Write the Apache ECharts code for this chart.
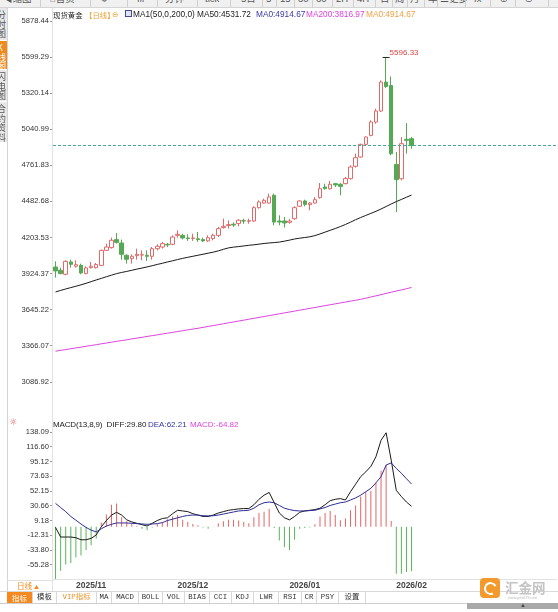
<!DOCTYPE html>
<html lang="zh-CN">
<head>
<meta charset="utf-8">
<title>现货黄金 日线</title>
<script src="https://cdn.jsdelivr.net/npm/echarts@6.0.0/dist/echarts.min.js"></script>
<style>
html,body{margin:0;padding:0;background:#fff;}
body{width:558px;height:612px;position:relative;overflow:hidden;font-family:"Liberation Sans","Noto Sans CJK SC",sans-serif;color:#222;}
#chart{position:absolute;left:0;top:0;width:558px;height:612px;}
.a{position:absolute;white-space:nowrap;}
.vl{position:absolute;width:1px;background:#dcdcdc;}
.hl{position:absolute;height:1px;background:#dcdcdc;}
#topbar{position:absolute;left:0;top:0;width:558px;height:7px;background:#f0f0f0;border-bottom:1px solid #d4d4d4;overflow:hidden;}
#topbar span{position:absolute;top:-7px;font-size:9.5px;line-height:12px;color:#555;font-family:"Liberation Sans","Noto Sans CJK SC";}
#topbar i{position:absolute;top:0;width:1px;height:7px;background:#cfcfcf;}
.lg{top:10px;font-size:8.3px;line-height:9px;}
.mg{top:419.5px;font-size:8px;line-height:9px;}
.cjk{font-family:"Noto Sans CJK SC",sans-serif;}
.blk{position:absolute;left:0;width:7px;overflow:hidden;background:#e8e8e8;}
.blk span{position:absolute;left:-3px;top:2px;font-size:9px;line-height:9.5px;font-family:"Noto Sans CJK SC";color:#555;}
.tab{position:absolute;top:592px;height:11px;border-right:1px solid #d8d8d8;font-size:7.4px;line-height:11px;text-align:center;font-family:"Liberation Mono","Noto Sans CJK SC";color:#333;}
</style>
</head>
<body>
<div id="chart"></div>

<div id="topbar"></div>

<div class="blk" style="top:8px;height:32px"><span>分<br>时<br>图</span></div>
<div class="blk" style="top:41px;height:28px;background:#f08a1c"><span style="color:#fff">K<br>线<br>图</span></div>
<div class="blk" style="top:70px;height:31px"><span>闪<br>电<br>图</span></div>
<div class="blk" style="top:102px;height:40px"><span>合<br>约<br>资<br>料</span></div>
<div class="vl" style="left:7px;top:8px;height:584px;background:#d4d4d4"></div>
<div class="vl" style="left:52px;top:8px;height:584px;background:#e2e2e2"></div>

<div class="a lg cjk" style="left:53px;font-size:7.4px">现货黄金</div>
<div class="a lg cjk" style="left:85px;font-size:7.4px;color:#f0a030">【日线】</div>
<div class="a lg" style="left:112px;color:#f0a030;font-family:'DejaVu Sans';font-size:7.5px">⊖</div>
<div class="a" style="left:125px;top:10px;width:5px;height:5px;border:1px solid #4a4a8a;background:#dfe3f5"></div>
<div class="a lg" style="left:133px">MA1(50,0,200,0)</div>
<div class="a lg" style="left:197px">MA50:4531.72</div>
<div class="a lg" style="left:256px;color:#3a3aa5">MA0:4914.67</div>
<div class="a lg" style="left:306px;color:#e040e0">MA200:3816.97</div>
<div class="a lg" style="left:366px;color:#f0a040">MA0:4914.67</div>

<div class="a" style="left:9px;top:417px;font-size:9px;color:#e05050;font-family:'DejaVu Sans'">☼</div>
<div class="a mg" style="left:53px;letter-spacing:-0.15px">MACD(13,8,9)</div>
<div class="a mg" style="left:106.5px">DIFF:29.80</div>
<div class="a mg" style="left:148px;color:#3535a0">DEA:62.21</div>
<div class="a mg" style="left:190px;color:#e040e0">MACD:-64.82</div>

<div class="hl" style="left:7px;top:580px;width:46px;background:#e2e2e2"></div>
<div class="a cjk" style="left:17px;top:581px;font-size:7.6px;line-height:10px;color:#f08a1c">日线 <span style="font-size:5px">▲</span></div>
<div class="hl" style="left:0;top:591px;width:558px;background:#d8d8d8"></div>
<div id="tabs"></div>
<div class="hl" style="left:0;top:603px;width:467px;background:#cfcfcf"></div>

<div class="a" style="left:480px;top:578px;width:20px;height:20px;border-radius:4px;background:#f4992c"></div>
<div class="a" style="left:484px;top:582px;width:9px;height:9px;border:2.5px solid #fff;border-right-color:transparent;border-radius:50%;transform:rotate(20deg)"></div>
<div class="a cjk" style="left:505px;top:579px;font-size:13.5px;line-height:16px;color:#c4c4c4;font-weight:bold">汇金网</div>
<div class="a" style="left:508px;top:596px;font-size:3.6px;color:#bbb">www.gold678.com</div>
<div class="a" style="left:467px;top:603px;width:91px;height:6px;background:#a9a9a9"></div>
<div class="a" style="left:520px;top:602px;font-size:6px;color:#444">▲</div>

<script>
// 日K 数据 (71 根)
const opens = [3975,3950,3919,4014,3981,3988,3924,3970,3970,3988,
  4104,4125,4187,4161,4066,4040,4063,4068,4066,4058,
  4117,4130,4151,4151,4220,4220,4200,4197,4194,4187,
  4177,4195,4220,4280,4296,4306,4311,4333,4329,4331,
  4434,4470,4470,4530,4331,4331,4321,4349,4445,4486,
  4458,4470,4512,4594,4581,4620,4615,4620,4659,4754,
  4826,4924,4993,5097,5182,5406,5380,4769,4658,4963,
  4968];
const closes = [3945,3924,4019,3996,3993,3929,3968,3981,3994,4104,
  4130,4182,4166,4073,4035,4058,4073,4070,4058,4117,
  4135,4156,4146,4207,4228,4200,4195,4200,4187,4177,
  4202,4220,4272,4290,4303,4300,4337,4331,4333,4434,
  4478,4491,4517,4323,4323,4316,4331,4434,4486,4460,
  4470,4496,4581,4581,4615,4610,4599,4659,4749,4821,
  4924,4981,5097,5182,5406,5372,4852,4651,4929,4955,
  4914.67];
const lows = [3893,3919,3911,3970,3970,3919,3919,3963,3963,3983,
  4099,4117,4156,4032,4001,4001,4032,4027,4022,4032,
  4104,4117,4130,4143,4202,4189,4177,4177,4169,4169,
  4169,4182,4207,4272,4272,4285,4290,4310,4310,4323,
  4427,4465,4465,4298,4298,4280,4310,4341,4440,4445,
  4414,4465,4504,4574,4574,4594,4530,4615,4651,4744,
  4821,4916,4986,5084,5174,5360,4839,4400,4645,4852,
  4890];
const highs = [4019,3970,4027,4032,4027,4001,3981,4014,4006,4110,
  4156,4202,4238,4187,4073,4073,4117,4104,4104,4130,
  4151,4169,4161,4220,4259,4233,4228,4233,4246,4202,
  4220,4233,4285,4349,4336,4320,4345,4349,4349,4445,
  4491,4504,4543,4543,4375,4362,4345,4445,4491,4496,
  4478,4517,4625,4620,4641,4625,4625,4672,4762,4852,
  4929,4986,5110,5200,5419,5596.33,5450,4865,4981,5089,
  4981];
const ma50 = [3782,3794,3805,3816,3826,3837,3849,3862,3875,3887,
  3900,3912,3924,3933,3941,3950,3959,3967,3976,3985,
  3995,4004,4014,4023,4033,4042,4050,4058,4066,4074,
  4082,4090,4100,4112,4123,4129,4133,4138,4143,4147,
  4152,4157,4161,4164,4168,4175,4183,4192,4198,4203,
  4209,4218,4231,4245,4259,4273,4288,4304,4322,4341,
  4358,4374,4390,4406,4424,4443,4463,4481,4498,4515,
  4531.72];
const ma200 = [3324,3330,3336,3343,3349,3355,3362,3368,3374,3381,
  3387,3393,3400,3406,3412,3419,3425,3431,3438,3444,
  3450,3457,3463,3469,3476,3482,3489,3495,3501,3508,
  3515,3522,3529,3536,3543,3550,3557,3564,3571,3578,
  3585,3592,3599,3606,3613,3620,3627,3634,3641,3648,
  3655,3662,3669,3676,3683,3690,3697,3704,3711,3718,
  3725,3734,3743,3752,3761,3771,3780,3789,3798,3807,
  3816.97];

// MACD(13,8,9)
const diff = [-1,-15,-15,-15,-16,-19,-19,-17,-12,0,
  9,17,21,17,10,7,5,3,1,5,
  9,12,13,19,24,23,22,19,17,15,
  15,17,20,22,24,25,26,26.5,26.5,32,
  40,46,50,35,20,13,10,15,21,23,
  24,25,27,32,38,40,41,39,51,62,
  73,80,88,102,126,137,97,53,44,36,
  29.8];
const dea = [34,28,22,15,9.5,4,-1,-5,-7.5,-3,
  1,3.5,5.5,5.5,5.5,5,4.5,4,3.5,4,
  4.5,6,9,11,13,15,16.5,17,17,16,
  15.8,16,17,18.5,20,21.5,23,23.5,24,27,
  32,35,36,35,31,27,25,23.5,23,23,
  23.5,24,26,28,31,33,35,36,39,42,
  46,51,56,64,73,90,93,85,78,70,
  62.21];
const macdHist = [-77,-64,-55,-53,-45,-42,-34,-27,-17,6,
  18,32,34,14,8,4,1,-3,-5,-1,
  4,7,11,15,17,10,7,4,2,-1,
  -3,0.5,5,8,10,10,9,7,5,14,
  20,22,26,-2,-20,-30,-34,-19,-3,-2,
  -1,3.6,15,20,23,17,9.5,12,24,31,
  44,51,52,64,82,90,8.5,-68.5,-68.5,-66,
  -64.82];

// 坐标轴刻度
const priceTicks = [5878.44,5599.29,5320.14,5040.99,4761.83,4482.68,4203.53,3924.37,3645.22,3366.07,3086.92];
const macdTicks = [138.09,116.60,95.12,73.63,52.15,30.66,9.18,-12.31,-33.80,-55.28];
const monthIdx = [7,27,49,70];
const monthNames = ['2025/11','2025/12','2026/01','2026/02'];
const lastPrice = 4914.67;
const slotCount = 99;

// toolbar / tabs
const topItems = [['◀缩图',3],['⌂首页',50],['⟳',101],['ılı',137],['分钟',165],['tick',205],['5日',241],['5',266],['15',280],['30',298],['60',316],['2H',336],['4H',357],['日',380],['周',395],['月',410],['年',428],['☰更多',440],['fx',474],['⊕',499],['⊖',524]];
const topSeps = [40,90,127,157,197,230,262,276,294,312,332,353,375,392,407,424,437,465,490,515,548];
const tabs = [['指标',7,33],['模板',33,57],['VIP指标',57,97],['MA',97,112],['MACD',112,139],['BOLL',139,163],['VOL',163,185],['BIAS',185,210],['CCI',210,232],['KDJ',232,254],['LWR',254,279],['RSI',279,302],['CR',302,317],['PSY',317,339],['设置',339,366]];

const tb = document.getElementById('topbar');
topItems.forEach(([t,x]) => { const s=document.createElement('span'); s.textContent=t; s.style.left=x+'px'; tb.appendChild(s); });
topSeps.forEach(x => { const i=document.createElement('i'); i.style.left=x+'px'; tb.appendChild(i); });
const tabBox = document.getElementById('tabs');
tabs.forEach(([t,l,r],k) => {
  const d=document.createElement('div'); d.className='tab'; d.textContent=t;
  d.style.left=l+'px'; d.style.width=(r-l-1)+'px';
  if (k===0){ d.style.background='#f5891f'; d.style.color='#fff'; d.style.fontFamily='Noto Sans CJK SC'; }
  if (k===2){ d.style.color='#e8962a'; }
  tabBox.appendChild(d);
});

const cats = Array.from({length: slotCount}, (_, i) => String(i));
const candles = opens.map((o, i) => [o, closes[i], lows[i], highs[i]]);

const chart = echarts.init(document.getElementById('chart'));
const tickLabel = {fontFamily:'Liberation Sans', fontSize:7.6, color:'#333', margin:4};

const option = {
  animation: false,
  backgroundColor: '#fff',
  grid: [
    {left:53, top:21, width:503.5, height:394},
    {left:53, top:425, width:503.5, height:154}
  ],
  xAxis: [
    {type:'category', gridIndex:0, data:cats, boundaryGap:true,
     axisLine:{show:false}, axisTick:{show:false}, axisLabel:{show:false}, splitLine:{show:false}},
    {type:'category', gridIndex:1, data:cats, boundaryGap:true,
     axisLine:{show:true, onZero:false, lineStyle:{color:'#e2e2e2'}}, axisTick:{show:false},
     axisLabel:{interval:0, margin:2, fontFamily:'Liberation Sans', fontSize:8.5, fontWeight:'bold', color:'#444',
       formatter:(v, i) => { const k = monthIdx.indexOf(i); return k < 0 ? '' : monthNames[k]; }},
     splitLine:{show:false}}
  ],
  yAxis: [
    {type:'value', gridIndex:0, min:2830.1, max:5878.44,
     axisLine:{show:false},
     axisTick:{show:true, length:3, customValues:priceTicks, lineStyle:{color:'#999'}},
     axisLabel:Object.assign({customValues:priceTicks, formatter:v => v.toFixed(2)}, tickLabel),
     splitLine:{show:false}},
    {type:'value', gridIndex:1, min:-76.2, max:148.3,
     axisLine:{show:false},
     axisTick:{show:true, length:3, customValues:macdTicks, lineStyle:{color:'#999'}},
     axisLabel:Object.assign({customValues:macdTicks, formatter:v => v.toFixed(2)}, tickLabel),
     splitLine:{show:false}}
  ],
  series: [
    {name:'MA200', type:'line', xAxisIndex:0, yAxisIndex:0, data:ma200, symbol:'none',
     lineStyle:{color:'#dd44dd', width:1}},
    {name:'MA50', type:'line', xAxisIndex:0, yAxisIndex:0, data:ma50, symbol:'none',
     lineStyle:{color:'#1a1a1a', width:1}},
    {name:'现货黄金', type:'candlestick', xAxisIndex:0, yAxisIndex:0, data:candles, barWidth:4,
     itemStyle:{color:'#ffffff', color0:'#55a955', borderColor:'#e06a6a', borderColor0:'#55a955', borderWidth:1},
     markLine:{silent:true, symbol:['none','none'], label:{show:false},
       lineStyle:{type:[3,2], color:'#46a89a', width:1}, data:[{yAxis:lastPrice}]},
     markPoint:{symbol:'rect', symbolSize:[7,1], itemStyle:{color:'#222'},
       label:{show:true, position:'right', distance:0, offset:[0,-5], color:'#e04444',
         fontFamily:'Liberation Sans', fontSize:8, formatter:p => Number(p.value).toFixed(2)},
       data:[{type:'max', valueDim:'highest'}]}},
    {name:'MACD', type:'bar', xAxisIndex:1, yAxisIndex:1, data:macdHist, barWidth:1,
     itemStyle:{color:p => p.value >= 0 ? '#e46464' : '#5cb35c'}},
    {name:'DIFF', type:'line', xAxisIndex:1, yAxisIndex:1, data:diff, symbol:'none',
     lineStyle:{color:'#1a1a1a', width:1}},
    {name:'DEA', type:'line', xAxisIndex:1, yAxisIndex:1, data:dea, symbol:'none',
     lineStyle:{color:'#2e2e96', width:1}}
  ]
};
chart.setOption(option);
</script>
</body>
</html>
